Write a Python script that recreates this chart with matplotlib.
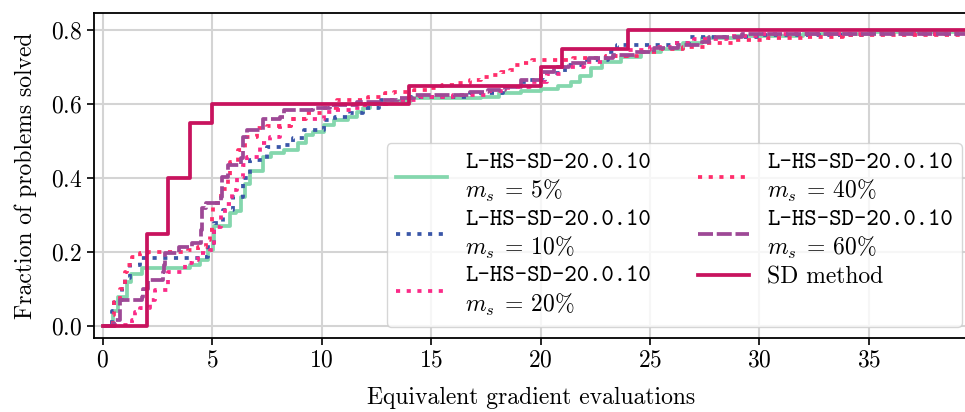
import matplotlib
matplotlib.use("Agg")
import matplotlib.pyplot as plt

plt.rcParams["font.family"] = "cmr10"
plt.rcParams["mathtext.fontset"] = "cm"
plt.rcParams["axes.formatter.use_mathtext"] = True

# Performance profiles: (evaluations, fraction solved) breakpoints, step-post
x_end = 40.0

ms5_x = [0, 0.4, 0.46, 0.7, 1.1, 1.3, 1.8, 4.0, 4.45, 4.8, 5.05, 5.1, 5.8, 6.1, 6.3, 6.5,
         6.75, 7.3, 7.7, 8.3, 8.9, 9.27, 9.6, 10.1, 10.56, 11.2, 11.6, 11.9, 12.2, 12.8,
         14.1, 17.3, 18.1, 19.1, 20.0, 20.8, 21.4, 21.8, 22.3, 22.8, 23.7, 24.6, 25.5,
         26.5, 27.4, 29.0, 32.0, 35.0]
ms5_y = [0, 0.01, 0.04, 0.08, 0.12, 0.14, 0.157, 0.165, 0.18, 0.205, 0.23, 0.27, 0.305,
         0.31, 0.35, 0.385, 0.42, 0.457, 0.467, 0.475, 0.495, 0.516, 0.524, 0.543, 0.557,
         0.565, 0.578, 0.589, 0.60, 0.608, 0.616, 0.62, 0.63, 0.635, 0.64, 0.65, 0.66,
         0.675, 0.697, 0.713, 0.727, 0.74, 0.75, 0.765, 0.778, 0.785, 0.79, 0.795]

ms10_x = [0, 0.4, 0.5, 0.86, 1.0, 1.24, 1.7, 4.45, 4.8, 5.1, 5.5, 5.96, 6.4, 6.75, 7.5,
          8.3, 8.7, 9.2, 10.1, 10.6, 11.3, 11.9, 12.6, 14.1, 16.8, 18.3, 19.0, 19.4, 20.2,
          21.1, 22.0, 23.1, 23.5, 26.0, 26.8, 30.0, 35.0]
ms10_y = [0, 0.04, 0.07, 0.10, 0.13, 0.165, 0.183, 0.187, 0.224, 0.28, 0.313, 0.35, 0.40,
          0.45, 0.485, 0.49, 0.508, 0.53, 0.557, 0.565, 0.575, 0.59, 0.612, 0.62, 0.63,
          0.645, 0.66, 0.665, 0.685, 0.705, 0.72, 0.74, 0.76, 0.765, 0.78, 0.786, 0.79]

ms20_x = [0, 0.55, 1.33, 1.47, 1.7, 2.16, 2.4, 3.0, 3.75, 4.1, 4.35, 4.9, 5.1, 5.4, 5.6,
          5.9, 6.15, 6.4, 6.6, 7.2, 7.66, 8.1, 8.6, 10.1, 10.6, 11.5, 12.0, 13.0, 14.5,
          16.0, 17.5, 18.5, 19.5, 20.3, 21.0, 22.0, 23.0, 24.0, 25.0, 26.0, 27.0, 28.5,
          30.0, 35.0]
ms20_y = [0, 0.003, 0.016, 0.038, 0.05, 0.07, 0.097, 0.146, 0.17, 0.18, 0.197, 0.205,
          0.267, 0.305, 0.33, 0.367, 0.403, 0.435, 0.457, 0.495, 0.51, 0.54, 0.56, 0.578,
          0.584, 0.589, 0.60, 0.61, 0.62, 0.625, 0.635, 0.645, 0.66, 0.68, 0.70, 0.715,
          0.73, 0.745, 0.755, 0.765, 0.775, 0.783, 0.788, 0.79]

ms40_x = [0, 0.46, 0.5, 0.8, 1.0, 1.1, 1.33, 1.7, 2.06, 3.9, 4.35, 4.7, 4.9, 5.0, 5.05,
          5.4, 5.7, 5.8, 6.2, 6.5, 7.07, 7.5, 8.6, 9.3, 10.0, 10.7, 12.1, 12.9, 13.3, 14.2,
          14.9, 15.5, 16.1, 16.8, 17.3, 17.8, 18.2, 18.6, 18.8, 19.2, 19.6, 21.5, 23.0,
          24.5, 25.5, 26.5, 27.5, 28.9, 30.4, 32.0, 33.8]
ms40_y = [0, 0.03, 0.065, 0.10, 0.146, 0.165, 0.187, 0.197, 0.20, 0.205, 0.214, 0.232,
          0.26, 0.295, 0.332, 0.37, 0.403, 0.443, 0.475, 0.51, 0.535, 0.54, 0.56, 0.575,
          0.59, 0.61, 0.62, 0.63, 0.633, 0.638, 0.643, 0.651, 0.657, 0.665, 0.673, 0.678,
          0.686, 0.692, 0.705, 0.711, 0.718, 0.725, 0.73, 0.74, 0.75, 0.755, 0.765, 0.773,
          0.778, 0.781, 0.786]

ms60_x = [0, 0.5, 0.8, 1.8, 1.85, 2.06, 2.75, 2.8, 2.84, 3.5, 4.1, 4.5, 4.55, 4.7, 5.4,
          5.45, 5.7, 6.3, 6.4, 6.6, 7.3, 8.1, 8.3, 9.6, 10.4, 11.6, 12.7, 13.5, 14.2, 16.8,
          17.6, 18.4, 19.1, 20.0, 20.6, 21.3, 22.2, 23.3, 24.3, 25.2, 26.3, 27.4, 27.7, 29.2]
ms60_y = [0, 0.016, 0.07, 0.08, 0.10, 0.124, 0.146, 0.165, 0.197, 0.214, 0.224, 0.26,
          0.32, 0.332, 0.35, 0.403, 0.435, 0.453, 0.51, 0.53, 0.56, 0.565, 0.584, 0.59,
          0.597, 0.605, 0.611, 0.616, 0.624, 0.633, 0.638, 0.646, 0.665, 0.686, 0.70,
          0.711, 0.724, 0.732, 0.741, 0.751, 0.759, 0.768, 0.78, 0.79]

sd_x = [0, 2, 3, 4, 5, 14, 20, 21, 24]
sd_y = [0, 0.25, 0.40, 0.55, 0.60, 0.65, 0.70, 0.75, 0.80]

method_name = "L-HS-SD-20.0.10"
labels = [method_name + "\n" + r"$m_s\;=\,5\%$",
          method_name + "\n" + r"$m_s\;=\,10\%$",
          method_name + "\n" + r"$m_s\;=\,20\%$",
          method_name + "\n" + r"$m_s\;=\,40\%$",
          method_name + "\n" + r"$m_s\;=\,60\%$",
          "SD method"]

x_ticks = [0, 5, 10, 15, 20, 25, 30, 35]
y_ticks = [0.0, 0.2, 0.4, 0.6, 0.8]


def extend(xs, ys):
    return list(xs) + [x_end], list(ys) + [ys[-1]]


fig = plt.figure(figsize=(9.65, 4.12), dpi=100)
ax = fig.add_axes([0.0974, 0.1796, 0.905, 0.7888])

lw = 2.7
dot = (1.1, 1.75)
series = [
    (ms5_x, ms5_y, dict(color="#84d7ad", linestyle="-")),
    (ms10_x, ms10_y, dict(color="#3a56a8", dashes=dot)),
    (ms20_x, ms20_y, dict(color="#fb2a88", dashes=dot)),
    (ms40_x, ms40_y, dict(color="#ff2d6b", dashes=dot)),
    (ms60_x, ms60_y, dict(color="#9e4996", dashes=(4.0, 1.0))),
    (sd_x, sd_y, dict(color="#c8135e", linestyle="-")),
]
for (xs, ys, style), lab in zip(series, labels):
    ex, ey = extend(xs, ys)
    ax.plot(ex, ey, drawstyle="steps-post", lw=lw, label=lab, **style)

ax.set_xlim(-0.4, 39.5)
ax.set_ylim(-0.032, 0.846)
ax.set_xticks(x_ticks)
ax.set_yticks(y_ticks)
ax.grid(True, color="#d4d4d4", lw=1.5)
ax.set_axisbelow(True)
ax.tick_params(labelsize=17, length=5, width=1.2)
for s in ax.spines.values():
    s.set_linewidth(1.3)

ax.set_xlabel("Equivalent gradient evaluations", fontsize=17, labelpad=11)
ax.set_ylabel("Fraction of problems solved", fontsize=17, labelpad=10)

leg = ax.legend(ncols=2, loc="lower right", bbox_to_anchor=(0.994, 0.034),
                borderaxespad=0, fontsize=17, handlelength=2.15, handletextpad=0.77,
                columnspacing=2.0, labelspacing=0.25, borderpad=0.4, fancybox=True)
for t in leg.get_texts()[:5]:
    t.set_family("cmtt10")
leg.get_texts()[5].set_family("cmr10")

fig.savefig("out.png", dpi=100)
